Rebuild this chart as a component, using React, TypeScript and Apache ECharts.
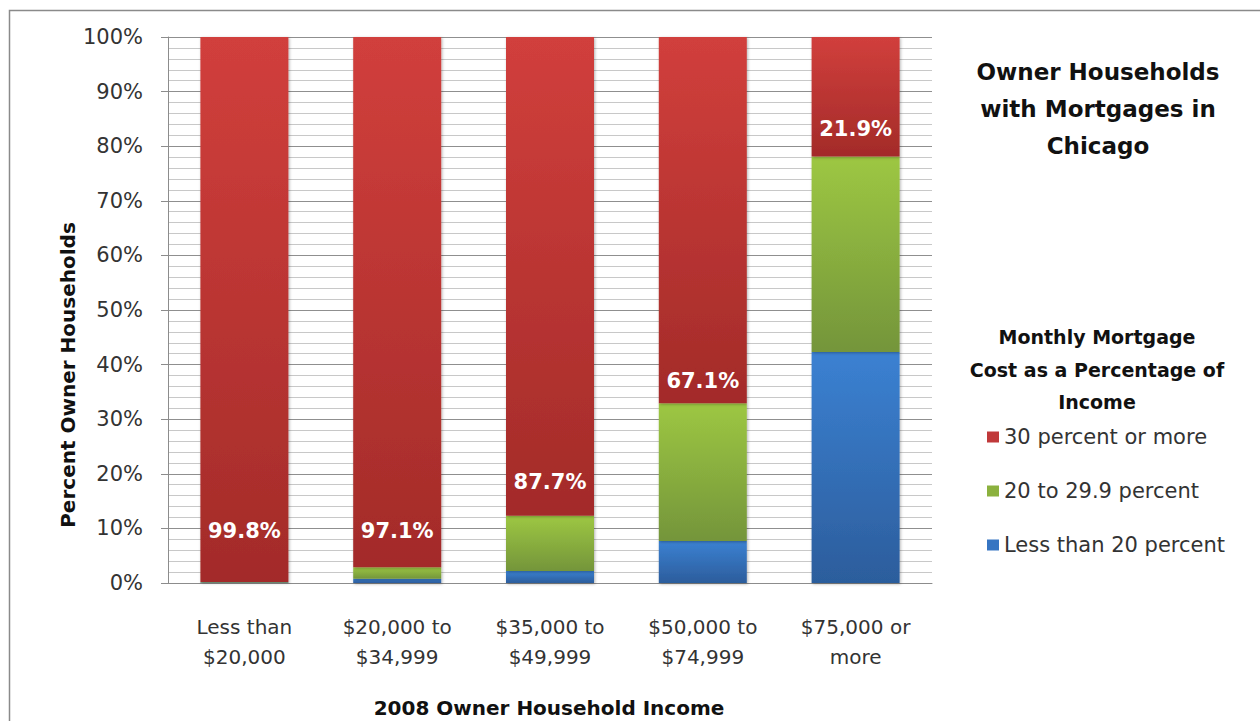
import React, { useEffect, useRef } from "react";
import * as echarts from "echarts";

const categories = ["Less than\n$20,000", "$20,000 to\n$34,999", "$35,000 to\n$49,999", "$50,000 to\n$74,999", "$75,000 or\nmore"];
const lessThan20 = [0.1, 0.8, 2.2, 7.7, 42.3];
const from20to29 = [0.1, 2.1, 10.1, 25.2, 35.8];
const thirtyPlus = [99.8, 97.1, 87.7, 67.1, 21.9];
const seriesNames = ["30 percent or more", "20 to 29.9 percent", "Less than 20 percent"];
const yTicks = [0, 10, 20, 30, 40, 50, 60, 70, 80, 90, 100];

const labelDistance = [40, 26, 23, 12, 17];
const FONT = "'DejaVu Sans', sans-serif";

function grad(top: string, bottom: string) {
  return new echarts.graphic.LinearGradient(0, 0, 0, 1, [
    { offset: 0, color: top },
    { offset: 1, color: bottom },
  ]);
}

export default function App() {
  const ref = useRef<HTMLDivElement>(null);
  useEffect(() => {
    document.body.style.margin = "0";
    const chart = echarts.init(ref.current!, null, { renderer: "svg" });
    const shadow = { shadowBlur: 3, shadowColor: "rgba(0,0,0,0.3)", shadowOffsetX: 1, shadowOffsetY: 1 };
    chart.setOption({
      animation: false,
      backgroundColor: "#ffffff",
      grid: { left: 168, top: 37, right: 328, bottom: 138, containLabel: false },
      xAxis: {
        type: "category",
        data: categories,
        axisLine: { show: true, lineStyle: { color: "#8c8c8c", width: 1 } },
        axisTick: { show: false },
        axisLabel: { fontFamily: FONT, fontSize: 20, color: "#333", lineHeight: 30, margin: 29 },
      },
      yAxis: {
        type: "value",
        min: yTicks[0],
        max: yTicks[yTicks.length - 1],
        interval: 10,
        axisLine: { show: true, lineStyle: { color: "#8c8c8c", width: 1 } },
        axisTick: { show: true, length: 7, lineStyle: { color: "#8c8c8c" } },
        axisLabel: { formatter: "{value}%", fontFamily: FONT, fontSize: 21, color: "#333", margin: 25 },
        splitLine: { show: true, lineStyle: { color: "#8f8f8f", width: 1 } },
        minorTick: { show: false, splitNumber: 5 },
        minorSplitLine: { show: true, lineStyle: { color: "#c8c8c8", width: 1 } },
      },
      legend: {
        orient: "vertical",
        left: 982,
        top: 421,
        itemWidth: 12,
        itemHeight: 11,
        itemGap: 32,
        itemTextGap: 8,
        icon: "rect",
        textStyle: { fontFamily: FONT, fontSize: 21, color: "#333", lineHeight: 22 },
        data: [
          { name: seriesNames[0], itemStyle: { color: "#c0393a" } },
          { name: seriesNames[1], itemStyle: { color: "#8bb13e" } },
          { name: seriesNames[2], itemStyle: { color: "#3675c2" } },
        ],
      },
      series: [
        {
          name: seriesNames[2],
          type: "bar",
          stack: "total",
          barWidth: 88,
          data: lessThan20,
          itemStyle: { color: grad("#3b81d2", "#2c5d9c"), ...shadow },
        },
        {
          name: seriesNames[1],
          type: "bar",
          stack: "total",
          barWidth: 88,
          data: from20to29,
          itemStyle: { color: grad("#9dc743", "#74953a"), ...shadow },
        },
        {
          name: seriesNames[0],
          type: "bar",
          stack: "total",
          barWidth: 88,
          data: thirtyPlus.map((v, i) => ({ value: v, label: { distance: labelDistance[i] } })),
          itemStyle: { color: grad("#d13f3c", "#a32b29"), ...shadow },
          label: {
            show: true,
            position: "insideBottom",
            formatter: (p: any) => Number(p.value).toFixed(1) + "%",
            fontFamily: FONT,
            fontSize: 21,
            fontWeight: "bold",
            color: "#ffffff",
          },
        },
      ],
      graphic: [
        {
          type: "rect",
          shape: { x: 9.5, y: 10.5, width: 1260, height: 720 },
          style: { fill: "none", stroke: "#8a8a8a", lineWidth: 1.5 },
          silent: true,
          z: -1,
        },
        {
          type: "text",
          x: 1098,
          y: 53,
          style: {
            text: "Owner Households\nwith Mortgages in\nChicago",
            fontFamily: FONT,
            fontSize: 23,
            fontWeight: "bold",
            fill: "#111",
            textAlign: "center",
            textVerticalAlign: "top",
            lineHeight: 37,
          },
        },
        {
          type: "text",
          x: 1097,
          y: 321,
          style: {
            text: "Monthly Mortgage\nCost as a Percentage of\nIncome",
            fontFamily: FONT,
            fontSize: 19,
            fontWeight: "bold",
            fill: "#111",
            textAlign: "center",
            textVerticalAlign: "top",
            lineHeight: 32.5,
          },
        },
        {
          type: "text",
          x: 68,
          y: 375,
          rotation: Math.PI / 2,
          style: {
            text: "Percent Owner Households",
            fontFamily: FONT,
            fontSize: 20,
            fontWeight: "bold",
            fill: "#111",
            textAlign: "center",
            textVerticalAlign: "middle",
          },
        },
        {
          type: "text",
          x: 549,
          y: 708,
          style: {
            text: "2008 Owner Household Income",
            fontFamily: FONT,
            fontSize: 20,
            fontWeight: "bold",
            fill: "#111",
            textAlign: "center",
            textVerticalAlign: "middle",
          },
        },
      ],
    });
    return () => chart.dispose();
  }, []);
  return <div ref={ref} style={{ position: "absolute", left: 0, top: 0, width: 1260, height: 721 }} />;
}
